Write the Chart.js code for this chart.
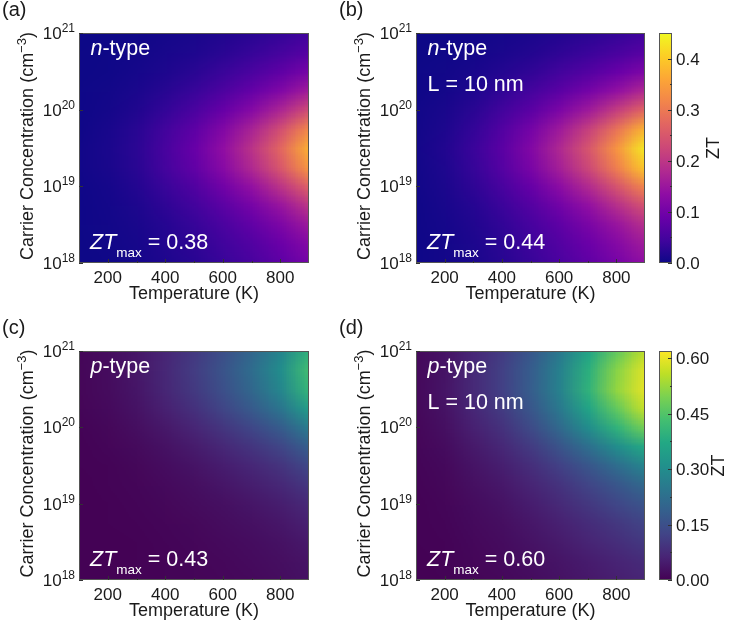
<!DOCTYPE html>
<html>
<head>
<meta charset="utf-8">
<script src="https://cdn.jsdelivr.net/npm/chart.js@4.4.1/dist/chart.umd.min.js"></script>
<style>
  body { margin: 0; background: #fff; width: 729px; height: 623px; position: relative; overflow: hidden; }
  canvas { position: absolute; }
</style>
</head>
<body>
<canvas id="panelA" width="320" height="310" style="left:0;top:0"></canvas>
<canvas id="panelB" width="409" height="310" style="left:320px;top:0"></canvas>
<canvas id="panelC" width="320" height="313" style="left:0;top:310px"></canvas>
<canvas id="panelD" width="409" height="313" style="left:320px;top:310px"></canvas>
<script>
// grid: columns follow temperatures, rows follow log10 of carrier concentration (top to bottom)
const temperatures = [100, 200, 300, 400, 500, 600, 700, 800, 900];
const logConcentrations = [21, 20.75, 20.5, 20.25, 20, 19.75, 19.5, 19.25, 19, 18.75, 18.5, 18.25, 18];

// (a) n-type
const ztNBulk = [
  [0.000, 0.001, 0.003, 0.007, 0.011, 0.017, 0.024, 0.034, 0.046],
  [0.001, 0.002, 0.005, 0.010, 0.016, 0.025, 0.036, 0.050, 0.068],
  [0.001, 0.003, 0.008, 0.015, 0.025, 0.039, 0.056, 0.078, 0.106],
  [0.002, 0.005, 0.012, 0.023, 0.038, 0.059, 0.084, 0.118, 0.160],
  [0.002, 0.007, 0.017, 0.034, 0.056, 0.087, 0.124, 0.174, 0.236],
  [0.003, 0.010, 0.024, 0.047, 0.077, 0.119, 0.170, 0.238, 0.323],
  [0.004, 0.012, 0.027, 0.054, 0.088, 0.137, 0.196, 0.274, 0.372],
  [0.004, 0.011, 0.025, 0.050, 0.081, 0.126, 0.180, 0.252, 0.342],
  [0.003, 0.008, 0.020, 0.039, 0.063, 0.098, 0.140, 0.196, 0.266],
  [0.002, 0.006, 0.015, 0.029, 0.047, 0.073, 0.104, 0.146, 0.198],
  [0.002, 0.005, 0.011, 0.022, 0.036, 0.056, 0.080, 0.112, 0.152],
  [0.001, 0.004, 0.009, 0.018, 0.029, 0.045, 0.064, 0.090, 0.122],
  [0.001, 0.003, 0.008, 0.015, 0.024, 0.038, 0.054, 0.076, 0.103]
];

// (b) n-type, L = 10 nm
const ztNFilm = [
  [0.001, 0.002, 0.004, 0.008, 0.012, 0.018, 0.025, 0.034, 0.044],
  [0.001, 0.003, 0.006, 0.012, 0.019, 0.029, 0.040, 0.054, 0.070],
  [0.002, 0.005, 0.010, 0.020, 0.031, 0.047, 0.065, 0.088, 0.114],
  [0.002, 0.007, 0.016, 0.031, 0.049, 0.074, 0.103, 0.139, 0.180],
  [0.004, 0.011, 0.025, 0.047, 0.074, 0.112, 0.155, 0.211, 0.273],
  [0.005, 0.015, 0.034, 0.065, 0.103, 0.155, 0.215, 0.292, 0.378],
  [0.006, 0.018, 0.040, 0.074, 0.119, 0.178, 0.248, 0.337, 0.436],
  [0.005, 0.016, 0.036, 0.068, 0.109, 0.164, 0.228, 0.309, 0.400],
  [0.004, 0.013, 0.029, 0.054, 0.086, 0.130, 0.180, 0.245, 0.317],
  [0.003, 0.010, 0.022, 0.041, 0.066, 0.099, 0.138, 0.187, 0.242],
  [0.003, 0.008, 0.017, 0.032, 0.052, 0.077, 0.108, 0.146, 0.189],
  [0.002, 0.006, 0.014, 0.027, 0.043, 0.065, 0.090, 0.122, 0.158],
  [0.002, 0.006, 0.012, 0.023, 0.037, 0.056, 0.078, 0.105, 0.136]
];

// (c) p-type
const ztPBulk = [
  [0.009, 0.019, 0.037, 0.065, 0.102, 0.149, 0.205, 0.279, 0.400],
  [0.010, 0.020, 0.040, 0.070, 0.110, 0.160, 0.220, 0.300, 0.430],
  [0.010, 0.019, 0.038, 0.067, 0.105, 0.152, 0.209, 0.285, 0.409],
  [0.008, 0.016, 0.032, 0.056, 0.088, 0.128, 0.176, 0.240, 0.344],
  [0.006, 0.012, 0.024, 0.042, 0.066, 0.096, 0.132, 0.180, 0.258],
  [0.004, 0.009, 0.017, 0.030, 0.047, 0.069, 0.095, 0.129, 0.185],
  [0.003, 0.006, 0.012, 0.022, 0.034, 0.050, 0.068, 0.093, 0.133],
  [0.002, 0.005, 0.009, 0.016, 0.025, 0.037, 0.051, 0.069, 0.099],
  [0.002, 0.003, 0.007, 0.012, 0.019, 0.027, 0.037, 0.051, 0.073],
  [0.001, 0.003, 0.005, 0.009, 0.014, 0.021, 0.029, 0.039, 0.056],
  [0.001, 0.002, 0.004, 0.007, 0.011, 0.016, 0.022, 0.030, 0.043],
  [0.001, 0.002, 0.003, 0.006, 0.009, 0.013, 0.018, 0.024, 0.034],
  [0.001, 0.001, 0.003, 0.005, 0.008, 0.011, 0.015, 0.021, 0.030]
];

// (d) p-type, L = 10 nm
const ztPFilm = [
  [0.014, 0.032, 0.068, 0.109, 0.168, 0.250, 0.360, 0.470, 0.560],
  [0.015, 0.034, 0.074, 0.118, 0.181, 0.270, 0.390, 0.510, 0.595],
  [0.015, 0.035, 0.074, 0.119, 0.183, 0.272, 0.400, 0.520, 0.600],
  [0.014, 0.032, 0.068, 0.108, 0.167, 0.250, 0.360, 0.470, 0.570],
  [0.011, 0.026, 0.056, 0.090, 0.139, 0.210, 0.300, 0.400, 0.490],
  [0.009, 0.020, 0.044, 0.070, 0.107, 0.160, 0.225, 0.300, 0.375],
  [0.007, 0.015, 0.033, 0.053, 0.081, 0.119, 0.165, 0.220, 0.280],
  [0.005, 0.012, 0.026, 0.041, 0.063, 0.092, 0.126, 0.165, 0.210],
  [0.004, 0.009, 0.020, 0.032, 0.050, 0.073, 0.100, 0.130, 0.162],
  [0.003, 0.007, 0.016, 0.025, 0.039, 0.057, 0.078, 0.101, 0.126],
  [0.003, 0.006, 0.013, 0.020, 0.031, 0.046, 0.063, 0.082, 0.102],
  [0.002, 0.005, 0.010, 0.016, 0.024, 0.035, 0.048, 0.062, 0.078],
  [0.002, 0.004, 0.008, 0.013, 0.020, 0.030, 0.041, 0.053, 0.066]
];

const xTicks = [200, 400, 600, 800];
const xMinorTicks = [300, 500, 700];
const yTickExponents = [18, 19, 20, 21];
const cbTicksN = [0, 0.1, 0.2, 0.3, 0.4];
const cbMinorN = [0.05, 0.15, 0.25, 0.35];
const cbTicksP = [0, 0.15, 0.3, 0.45, 0.6];
const cbMinorP = [0.075, 0.225, 0.375, 0.525];
const ztRangeN = 0.45;
const ztRangeP = 0.62;

// colormaps
const plasma = [[13,8,135],[65,4,157],[106,0,168],[143,13,164],[177,42,144],[204,71,120],[225,100,98],[242,132,75],[252,166,54],[252,206,37],[240,249,33]];
const viridis = [[68,1,84],[72,36,117],[65,68,135],[53,95,141],[42,120,142],[33,145,140],[34,168,132],[68,191,112],[122,209,81],[189,223,38],[253,231,37]];

const FONT = "'Liberation Sans', Arial, sans-serif";
const TEXT = "#1a1a1a";

function colorAt(map, t) {
  t = Math.max(0, Math.min(1, t));
  const f = t * (map.length - 1);
  const i = Math.min(Math.floor(f), map.length - 2);
  const k = f - i;
  return map[i].map((c, j) => Math.round(c + (map[i + 1][j] - c) * k));
}

function font(r) {
  return (r.italic ? "italic " : "") + r.size + "px " + FONT;
}

// draw a run of text pieces (for superscripts / subscripts)
function drawRuns(ctx, runs, x, y, align) {
  let total = 0;
  runs.forEach((r) => {
    ctx.font = font(r);
    r.w = ctx.measureText(r.t).width;
    total += r.w;
  });
  let cx = align === "right" ? x - total : align === "center" ? x - total / 2 : x;
  ctx.textAlign = "left";
  ctx.textBaseline = "alphabetic";
  runs.forEach((r) => {
    ctx.font = font(r);
    ctx.fillText(r.t, cx, y + (r.dy || 0));
    cx += r.w;
  });
  return total;
}

function cellsFrom(grid) {
  const pts = [];
  grid.forEach((row, r) =>
    row.forEach((v, c) => pts.push({ x: temperatures[c], y: Math.pow(10, logConcentrations[r]), v: v, row: r, col: c }))
  );
  return pts;
}

function heatmapPlugin(map, vmax) {
  return {
    id: "heatmap",
    beforeDatasetsDraw(chart) {
      const { ctx, chartArea: area, scales } = chart;
      const pts = chart.data.datasets[0].data;
      const cols = temperatures.length;
      const rows = logConcentrations.length;
      const off = document.createElement("canvas");
      off.width = cols;
      off.height = rows;
      const octx = off.getContext("2d");
      const img = octx.createImageData(cols, rows);
      pts.forEach((p) => {
        const c = colorAt(map, p.v / vmax);
        const k = (p.row * cols + p.col) * 4;
        img.data[k] = c[0];
        img.data[k + 1] = c[1];
        img.data[k + 2] = c[2];
        img.data[k + 3] = 255;
      });
      octx.putImageData(img, 0, 0);
      const dT = temperatures[1] - temperatures[0];
      const dL = logConcentrations[0] - logConcentrations[1];
      const x0 = scales.x.getPixelForValue(temperatures[0] - dT / 2);
      const x1 = scales.x.getPixelForValue(temperatures[cols - 1] + dT / 2);
      const y0 = scales.y.getPixelForValue(Math.pow(10, logConcentrations[0] + dL / 2));
      const y1 = scales.y.getPixelForValue(Math.pow(10, logConcentrations[rows - 1] - dL / 2));
      ctx.save();
      ctx.beginPath();
      ctx.rect(area.left, area.top, area.right - area.left, area.bottom - area.top);
      ctx.clip();
      ctx.imageSmoothingEnabled = true;
      ctx.drawImage(off, x0, y0, x1 - x0, y1 - y0);
      ctx.restore();
    }
  };
}

function decorPlugin(p) {
  return {
    id: "decor",
    afterDraw(chart) {
      const { ctx, chartArea: a, scales } = chart;
      ctx.save();
      // frame
      ctx.strokeStyle = "#555";
      ctx.lineWidth = 1;
      ctx.strokeRect(a.left + 0.5, a.top + 0.5, a.right - a.left - 1, a.bottom - a.top - 1);
      // tick marks (inside)
      ctx.strokeStyle = "#333";
      ctx.beginPath();
      xTicks.forEach((v) => {
        const px = Math.round(scales.x.getPixelForValue(v)) + 0.5;
        ctx.moveTo(px, a.bottom);
        ctx.lineTo(px, a.bottom - 4);
      });
      xMinorTicks.forEach((v) => {
        const px = Math.round(scales.x.getPixelForValue(v)) + 0.5;
        ctx.moveTo(px, a.bottom);
        ctx.lineTo(px, a.bottom - 2);
      });
      yTickExponents.forEach((e) => {
        const py = Math.round(scales.y.getPixelForValue(Math.pow(10, e))) + 0.5;
        ctx.moveTo(a.left, py);
        ctx.lineTo(a.left + 4, py);
      });
      ctx.stroke();

      ctx.fillStyle = TEXT;
      // x tick labels
      ctx.font = "17px " + FONT;
      ctx.textAlign = "center";
      ctx.textBaseline = "alphabetic";
      xTicks.forEach((v) => ctx.fillText(String(v), scales.x.getPixelForValue(v), a.bottom + 20));
      // y tick labels 10^n
      yTickExponents.forEach((e) => {
        const py = scales.y.getPixelForValue(Math.pow(10, e));
        drawRuns(ctx, [{ t: "10", size: 17 }, { t: String(e), size: 12, dy: -7 }], a.left - 4, py + 6, "right");
      });
      // axis titles
      drawRuns(ctx, [{ t: "Temperature (K)", size: 18 }], (a.left + a.right) / 2, a.bottom + 36, "center");
      ctx.save();
      ctx.translate(a.left - 46, (a.top + a.bottom) / 2 - 2);
      ctx.rotate(-Math.PI / 2);
      drawRuns(ctx, [
        { t: "Carrier Concentration (cm", size: 18 },
        { t: "\u22123", size: 13, dy: -7 },
        { t: ")", size: 18 }
      ], 0, 0, "center");
      ctx.restore();
      // panel letter
      drawRuns(ctx, [{ t: p.letter, size: 20 }], a.left - 77, a.top - 17, "left");

      // labels inside the map
      ctx.fillStyle = "#fff";
      drawRuns(ctx, [{ t: p.carrier, size: 21.5, italic: true }, { t: "-type", size: 21.5 }], a.left + 11.5, a.top + 22, "left");
      if (p.film) {
        drawRuns(ctx, [{ t: "L = 10 nm", size: 21.5 }], a.left + 11.5, a.top + 58, "left");
      }
      drawRuns(ctx, [
        { t: "ZT", size: 21.5, italic: true },
        { t: "max", size: 13.5, dy: 8 },
        { t: " = " + p.ztMax, size: 21.5 }
      ], a.left + 11, a.bottom - 14, "left");

      // colorbar
      if (p.cb) {
        const cb = scales.cb;
        const left = a.right + 14;
        const w = 13;
        const top = cb.getPixelForValue(p.cb.max);
        const bottom = cb.getPixelForValue(0);
        const g = ctx.createLinearGradient(0, bottom, 0, top);
        p.cb.map.forEach((c, i) => g.addColorStop(i / (p.cb.map.length - 1), "rgb(" + c.join(",") + ")"));
        ctx.fillStyle = g;
        ctx.fillRect(left, top, w, bottom - top);
        ctx.strokeStyle = "#555";
        ctx.strokeRect(left + 0.5, top + 0.5, w - 1, bottom - top - 1);
        ctx.strokeStyle = "#333";
        ctx.beginPath();
        p.cb.ticks.forEach((v) => {
          const py = Math.round(cb.getPixelForValue(v)) + 0.5;
          ctx.moveTo(left + w, py);
          ctx.lineTo(left + w - 4, py);
        });
        p.cb.minor.forEach((v) => {
          const py = Math.round(cb.getPixelForValue(v)) + 0.5;
          ctx.moveTo(left + w, py);
          ctx.lineTo(left + w - 2, py);
        });
        ctx.stroke();
        ctx.fillStyle = TEXT;
        p.cb.ticks.forEach((v) => {
          drawRuns(ctx, [{ t: v.toFixed(p.cb.digits), size: 17 }], left + w + 4, cb.getPixelForValue(v) + 6, "left");
        });
        ctx.save();
        ctx.translate(left + p.cb.titleOffset, (top + bottom) / 2);
        ctx.rotate(-Math.PI / 2);
        drawRuns(ctx, [{ t: "ZT", size: 18 }], 0, 0, "center");
        ctx.restore();
      }
      ctx.restore();
    }
  };
}

function makePanel(id, grid, map, vmax, pad, p) {
  const scales = {
    x: { type: "linear", min: 100, max: 900, display: false },
    y: { type: "logarithmic", min: 1e18, max: 1e21, display: false }
  };
  if (p.cb) scales.cb = { type: "linear", position: "right", min: 0, max: p.cb.max, display: false };
  new Chart(document.getElementById(id), {
    type: "scatter",
    data: { datasets: [{ data: cellsFrom(grid), pointRadius: 0, showLine: false }] },
    options: {
      responsive: false,
      animation: false,
      events: [],
      layout: { padding: pad },
      scales: scales,
      plugins: { legend: { display: false }, tooltip: { enabled: false } }
    },
    plugins: [heatmapPlugin(map, vmax), decorPlugin(p)]
  });
}

makePanel("panelA", ztNBulk, plasma, ztRangeN, { left: 79, right: 11, top: 33, bottom: 47 },
  { letter: "(a)", carrier: "n", film: false, ztMax: "0.38" });
makePanel("panelB", ztNFilm, plasma, ztRangeN, { left: 96, right: 84, top: 33, bottom: 47 },
  { letter: "(b)", carrier: "n", film: true, ztMax: "0.44",
    cb: { max: ztRangeN, map: plasma, ticks: cbTicksN, minor: cbMinorN, digits: 1, titleOffset: 60 } });
makePanel("panelC", ztPBulk, viridis, ztRangeP, { left: 79, right: 11, top: 41, bottom: 43 },
  { letter: "(c)", carrier: "p", film: false, ztMax: "0.43" });
makePanel("panelD", ztPFilm, viridis, ztRangeP, { left: 96, right: 84, top: 41, bottom: 43 },
  { letter: "(d)", carrier: "p", film: true, ztMax: "0.60",
    cb: { max: ztRangeP, map: viridis, ticks: cbTicksP, minor: cbMinorP, digits: 2, titleOffset: 65 } });
</script>
</body>
</html>
